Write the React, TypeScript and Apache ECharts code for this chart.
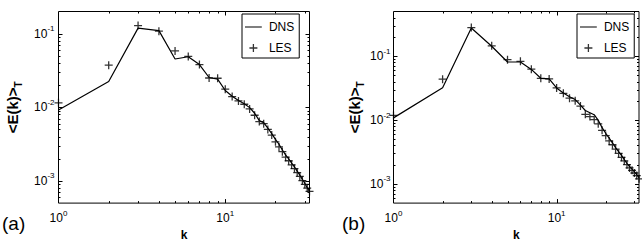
import React, { useEffect, useRef } from "react";
import * as echarts from "echarts";

const kValues = [1, 2, 3, 4, 5, 6, 7, 8, 9, 10, 11, 12, 13, 14, 15, 16, 17, 18, 19, 20, 21, 22, 23, 24, 25, 26, 27, 28, 29, 30, 31, 32];

const dnsA = [0.0092, 0.0224, 0.119, 0.110, 0.0453, 0.0486, 0.038, 0.0254, 0.0241, 0.0169, 0.0141, 0.0124, 0.0112, 0.0099, 0.0083, 0.0066, 0.0062, 0.0052, 0.0044, 0.00367, 0.00315, 0.00263, 0.00226, 0.0020, 0.00175, 0.00155, 0.00136, 0.0012, 0.00105, 0.00093, 0.00081, 0.00072];
const lesA = [0.0115, 0.0373, 0.129, 0.108, 0.0583, 0.049, 0.038, 0.025, 0.0248, 0.0176, 0.0140, 0.0122, 0.0110, 0.0095, 0.0078, 0.0064, 0.0060, 0.0050, 0.0042, 0.0034, 0.0029, 0.0025, 0.0021, 0.00188, 0.00165, 0.00147, 0.0013, 0.00115, 0.00101, 0.0009, 0.0008, 0.00072];

const dnsB = [0.0108, 0.0319, 0.276, 0.143, 0.081, 0.081, 0.062, 0.045, 0.044, 0.0318, 0.0264, 0.0232, 0.0209, 0.0171, 0.0141, 0.0130, 0.0121, 0.0099, 0.0076, 0.0062, 0.0052, 0.0044, 0.0037, 0.0032, 0.0028, 0.0024, 0.0021, 0.00187, 0.0017, 0.00154, 0.0014, 0.00125];
const lesB = [0.0118, 0.0436, 0.28, 0.145, 0.088, 0.083, 0.0626, 0.045, 0.044, 0.0318, 0.0262, 0.022, 0.020, 0.0165, 0.0123, 0.0113, 0.0101, 0.0087, 0.0069, 0.0057, 0.0047, 0.0041, 0.0035, 0.0030, 0.0026, 0.0023, 0.0020, 0.00178, 0.00163, 0.00148, 0.00135, 0.0012];

const xMajorTicks = [1, 10];
const xMinorTicks = [2, 3, 4, 5, 6, 7, 8, 9, 20, 30];
const yMajorTicks = [0.001, 0.01, 0.1];
const yMinorTicks = [0.0006, 0.0007, 0.0008, 0.0009, 0.002, 0.003, 0.004, 0.005, 0.006, 0.007, 0.008, 0.009, 0.02, 0.03, 0.04, 0.05, 0.06, 0.07, 0.08, 0.09, 0.2, 0.3, 0.4];

const xRange = [1, 32];
const yRangeA = [0.0005, 0.2];
const yRangeB = [0.0005, 0.5];
const panelLabels = ["(a)", "(b)"];
const seriesNames = ["DNS", "LES"];

const FONT = "Liberation Sans, Arial, Helvetica, sans-serif";
const PLUS = "path://M4.2,0H5.8V4.2H10V5.8H5.8V10H4.2V5.8H0V4.2H4.2Z";
const LINE_ICON = "path://M0,0H0.01V0.01H0Z M0,4.4H21V5.6H0Z M0,9.99H0.01V10H0Z";

function powLabel(v: number) {
  const e = Math.round(Math.log10(v));
  if (Math.abs(Math.log10(v) - e) > 1e-6) return "";
  return `{b|10}{s|${e}}`;
}

const labelRich = {
  b: { fontSize: 12, fontFamily: FONT, color: "#000", lineHeight: 14 },
  s: { fontSize: 8, fontFamily: FONT, color: "#000", verticalAlign: "top", height: 4 },
};

function tickData(yMin: number, yMax: number) {
  const d: number[][] = [];
  xMinorTicks.forEach((v) => { if (v > xRange[0] && v < xRange[1]) d.push([v, yMin, 0]); });
  xMajorTicks.forEach((v) => { if (v > xRange[0] && v < xRange[1]) d.push([v, yMin, 1]); });
  yMinorTicks.forEach((v) => { if (v > yMin && v < yMax) d.push([xRange[0], v, 2]); });
  yMajorTicks.forEach((v) => { if (v > yMin && v < yMax) d.push([xRange[0], v, 3]); });
  return d;
}

function tickSeries(gi: number, yMin: number, yMax: number) {
  return {
    type: "custom",
    xAxisIndex: gi,
    yAxisIndex: gi,
    silent: true,
    z: 5,
    encode: { x: 0, y: 1 },
    data: tickData(yMin, yMax),
    renderItem: (params: any, api: any) => {
      const cs = params.coordSys;
      const kind = api.value(2);
      const p = api.coord([api.value(0), api.value(1)]);
      const L = kind % 2 === 1 ? 4 : 2;
      const st = { stroke: "#000", lineWidth: 1 };
      if (kind < 2) {
        const x = Math.round(p[0]) + 0.5;
        const yb = cs.y + cs.height;
        return {
          type: "group",
          children: [
            { type: "line", shape: { x1: x, y1: yb, x2: x, y2: yb - L }, style: st },
            { type: "line", shape: { x1: x, y1: cs.y, x2: x, y2: cs.y + L }, style: st },
          ],
        };
      }
      const y = Math.round(p[1]) + 0.5;
      const xr = cs.x + cs.width;
      return {
        type: "group",
        children: [
          { type: "line", shape: { x1: cs.x, y1: y, x2: cs.x + L, y2: y }, style: st },
          { type: "line", shape: { x1: xr, y1: y, x2: xr - L, y2: y }, style: st },
        ],
      };
    },
  };
}

function buildOption() {
  const grids = [
    { left: 58.5, top: 11.5, width: 251, height: 196 },
    { left: 393.5, top: 11.5, width: 251, height: 196 },
  ];
  const yRanges = [yRangeA, yRangeB];
  const nameGaps = [38, 31];
  const labelMargins = [4, 3];
  const legendLefts = [242, 577];
  const titleLefts = [2, 342];
  const dns = [dnsA, dnsB];
  const les = [lesA, lesB];

  const series: any[] = [];
  [0, 1].forEach((gi) => {
    series.push({
      type: "line",
      name: seriesNames[0],
      xAxisIndex: gi,
      yAxisIndex: gi,
      symbol: "none",
      showSymbol: false,
      lineStyle: { color: "#000", width: 1.2 },
      itemStyle: { color: "#000" },
      data: kValues.map((k, i) => [k, dns[gi][i]]),
      z: 3,
    });
    series.push({
      type: "scatter",
      name: seriesNames[1],
      xAxisIndex: gi,
      yAxisIndex: gi,
      symbol: PLUS,
      symbolSize: 8,
      itemStyle: { color: "#000" },
      data: kValues.map((k, i) => [k, les[gi][i]]),
      z: 4,
    });
    series.push(tickSeries(gi, yRanges[gi][0], yRanges[gi][1]));
  });

  return {
    animation: false,
    backgroundColor: "#fff",
    title: [0, 1].map((gi) => ({
      text: panelLabels[gi],
      left: titleLefts[gi],
      top: 214,
      padding: 0,
      textStyle: { fontSize: 19, fontWeight: "normal", color: "#000", fontFamily: FONT },
    })),
    legend: [0, 1].map((gi) => ({
      left: legendLefts[gi],
      top: 14,
      orient: "vertical",
      itemWidth: 21,
      itemHeight: 8,
      itemGap: 9,
      padding: [7, 5, 4, 3],
      borderColor: "#000",
      borderWidth: 1,
      backgroundColor: "#fff",
      selectedMode: false,
      textStyle: { fontSize: 12, color: "#000", fontFamily: FONT },
      data: [
        { name: seriesNames[0], icon: LINE_ICON, itemStyle: { color: "#000" } },
        { name: seriesNames[1], icon: PLUS, itemStyle: { color: "#000" } },
      ],
    })),
    grid: grids.map((g) => ({ ...g, show: true, borderColor: "#000", borderWidth: 1, backgroundColor: "transparent" })),
    xAxis: [0, 1].map((gi) => ({
      type: "log",
      gridIndex: gi,
      min: xRange[0],
      max: xRange[1],
      logBase: 10,
      name: "k",
      nameLocation: "middle",
      nameGap: 25,
      nameTextStyle: { fontSize: 12, fontWeight: "bold", color: "#000", fontFamily: FONT },
      axisLine: { show: false },
      axisTick: { show: false },
      splitLine: { show: false },
      axisLabel: { margin: 8, formatter: powLabel, rich: labelRich, color: "#000" },
    })),
    yAxis: [0, 1].map((gi) => ({
      type: "log",
      gridIndex: gi,
      min: yRanges[gi][0],
      max: yRanges[gi][1],
      logBase: 10,
      name: "{m|<E(k)>}{t|T}",
      nameLocation: "middle",
      nameRotate: 90,
      nameGap: nameGaps[gi],
      nameTextStyle: {
        rich: {
          m: { fontSize: 15, fontWeight: "bold", color: "#000", fontFamily: FONT, lineHeight: 16 },
          t: { fontSize: 10, fontWeight: "bold", color: "#000", fontFamily: FONT, verticalAlign: "bottom", height: 4 },
        },
      },
      axisLine: { show: false },
      axisTick: { show: false },
      splitLine: { show: false },
      axisLabel: { margin: labelMargins[gi], formatter: powLabel, rich: labelRich, color: "#000" },
    })),
    series,
  };
}

export default function App() {
  const ref = useRef<HTMLDivElement>(null);
  useEffect(() => {
    if (!ref.current) return;
    const chart = echarts.init(ref.current, undefined, { renderer: "svg" });
    chart.setOption(buildOption() as any);
    return () => chart.dispose();
  }, []);
  return (
    <div
      ref={ref}
      style={{ position: "absolute", left: 0, top: 0, width: 642, height: 246, background: "#fff" }}
    />
  );
}
